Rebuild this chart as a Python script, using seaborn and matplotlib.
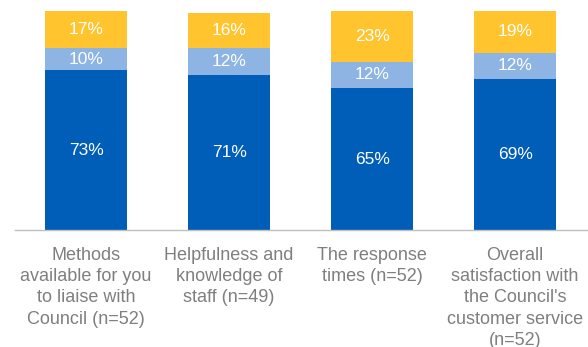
import numpy as np
import pandas as pd
import matplotlib
matplotlib.use("Agg")
import matplotlib.pyplot as plt
import seaborn as sns

categories = [
    "Methods\navailable for you\nto liaise with\nCouncil (n=52)",
    "Helpfulness and\nknowledge of\nstaff (n=49)",
    "The response\ntimes (n=52)",
    "Overall\nsatisfaction with\nthe Council's\ncustomer service\n(n=52)",
]
satisfied = [73, 71, 65, 69]
neutral = [10, 12, 12, 12]
dissatisfied = [17, 16, 23, 19]

colors = {"satisfied": "#005EB8", "neutral": "#8DB4E2", "dissatisfied": "#FFC42E"}

sns.set_style("white")
plt.rcParams["font.family"] = ["Liberation Sans", "DejaVu Sans"]

df = pd.DataFrame({
    "category": categories,
    "satisfied": satisfied,
    "neutral": neutral,
    "dissatisfied": dissatisfied,
})
df["top_neutral"] = df["satisfied"] + df["neutral"]
df["top_all"] = df["top_neutral"] + df["dissatisfied"]

fig = plt.figure(figsize=(5.88, 3.47), dpi=100)
ax = fig.add_axes([0.0247, 0.336, 0.973, 0.632])

width = 0.575
# stacked bars drawn as overlapping cumulative totals
sns.barplot(data=df, x="category", y="top_all", color=colors["dissatisfied"],
            saturation=1, width=width, linewidth=0, ax=ax)
sns.barplot(data=df, x="category", y="top_neutral", color=colors["neutral"],
            saturation=1, width=width, linewidth=0, ax=ax)
sns.barplot(data=df, x="category", y="satisfied", color=colors["satisfied"],
            saturation=1, width=width, linewidth=0, ax=ax)

for i, row in df.iterrows():
    segs = [(0, row["satisfied"]),
            (row["satisfied"], row["neutral"]),
            (row["top_neutral"], row["dissatisfied"])]
    for bottom, val in segs:
        ax.text(i, bottom + val / 2, f"{val}%", ha="center", va="center",
                color="white", fontsize=12.5)

ax.set_xlim(-0.5, 3.5)
ax.set_ylim(0, 100)
ax.set_xlabel("")
ax.set_ylabel("")
ax.set_yticks([])

for side in ["top", "right", "left"]:
    ax.spines[side].set_visible(False)
ax.spines["bottom"].set_color("#BFBFBF")
ax.spines["bottom"].set_linewidth(1.0)

ax.set_xticks(range(len(categories)))
ax.set_xticklabels(categories, color="#7F7F7F", fontsize=13, linespacing=1.32)
ax.tick_params(axis="x", which="major", length=0, pad=12)
ax.set_xticks(np.arange(-0.5, len(categories), 1.0), minor=True)
ax.tick_params(axis="x", which="minor", length=4.5, width=1.0, color="#BFBFBF",
               direction="out")

fig.savefig("out.png", dpi=100)
